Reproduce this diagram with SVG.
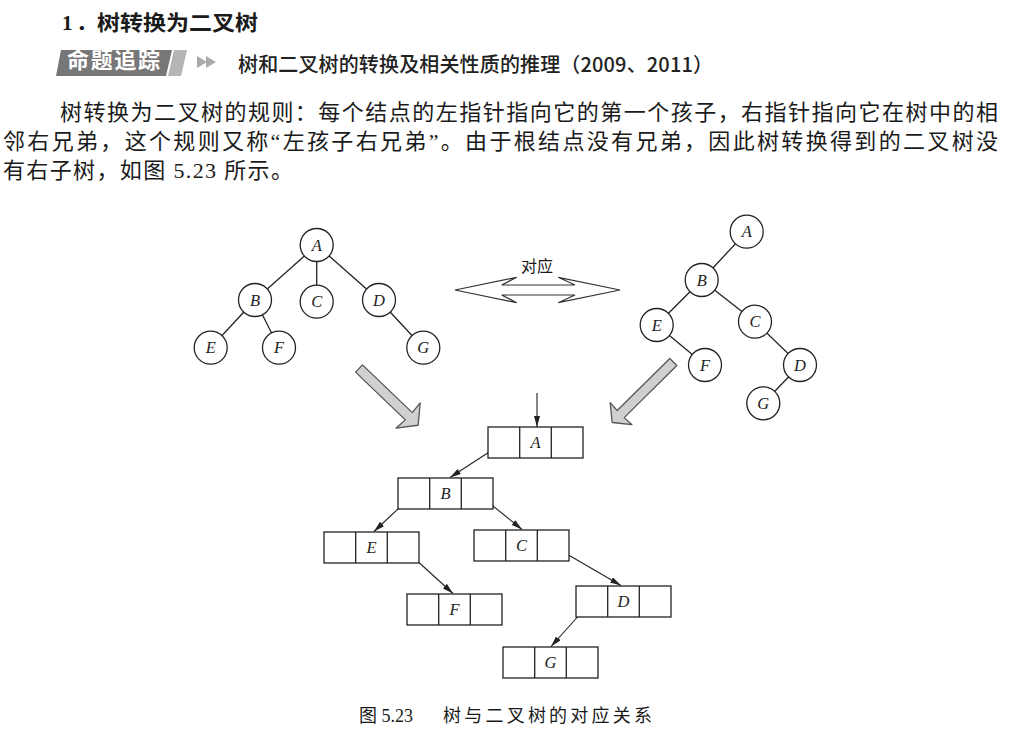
<svg xmlns="http://www.w3.org/2000/svg" width="1013" height="733" viewBox="0 0 1013 733">
<defs>
<style>
.cn{font-family:"Liberation Serif","Noto Sans CJK SC",serif;fill:#1a1a1a}
.p{font-size:22px}
.lbl{font-family:"Liberation Serif",serif;font-style:italic;font-size:16.5px;text-anchor:middle;fill:#222}
.nd circle{fill:#fff;stroke:#222;stroke-width:1.3}
.edge{stroke:#222;stroke-width:1.3;fill:none}
.box rect{fill:#fff;stroke:#222;stroke-width:1.3}
.box line{stroke:#222;stroke-width:1.3}
.ptr{stroke:#222;stroke-width:1.1;fill:none;marker-end:url(#ah)}
.big{fill:#d0d0d0;stroke:#555;stroke-width:1.3;stroke-linejoin:round}
.dbl{fill:#fff;stroke:#333;stroke-width:1.2;stroke-linejoin:miter}
</style>
<marker id="ah" viewBox="0 0 11 6" refX="11" refY="3" markerWidth="11" markerHeight="6" markerUnits="userSpaceOnUse" orient="auto"><path d="M0,0 L11,3 L0,6 z" fill="#222"/></marker>
</defs>
<rect width="1013" height="733" fill="#fff"/>

<g id="header">
<text class="cn" x="62" y="30" font-size="21" font-weight="bold">1</text>
<text class="cn" x="76" y="30" font-size="21" font-weight="bold">．</text>
<text class="cn" x="97" y="30" font-size="21" font-weight="bold" textLength="161" lengthAdjust="spacingAndGlyphs">树转换为二叉树</text>
</g>

<g id="badge">
<polygon points="56,76 61,50 172,50 166,76" fill="#777"/>
<polygon points="174,50 187,50 181,76 168,76" fill="#b5b5b5"/>
<text x="67" y="68" font-family="Noto Sans CJK SC, sans-serif" font-size="22" font-weight="bold" fill="#fff" textLength="93">命题追踪</text>
<polygon points="197,56 207,62 197,68" fill="#aaa"/>
<polygon points="206,56 216,62 206,68" fill="#aaa"/>
<text x="238" y="72" font-family="Noto Sans CJK SC, sans-serif" font-size="20" font-weight="500" fill="#222" textLength="475">树和二叉树的转换及相关性质的推理（2009、2011）</text>
</g>

<g id="paragraph">
<text class="cn p" x="60" y="120" textLength="938">树转换为二叉树的规则：每个结点的左指针指向它的第一个孩子，右指针指向它在树中的相</text>
<text class="cn p" x="3" y="149" textLength="995">邻右兄弟，这个规则又称“左孩子右兄弟”。由于根结点没有兄弟，因此树转换得到的二叉树没</text>
<text class="cn p" x="3" y="178" textLength="290">有右子树，如图 5.23 所示。</text>
</g>

<g id="connectors">
<line class="edge" x1="316.7" y1="245" x2="255" y2="300"/>
<line class="edge" x1="316.7" y1="245" x2="316.7" y2="301.7"/>
<line class="edge" x1="316.7" y1="245" x2="379" y2="300"/>
<line class="edge" x1="255" y1="300" x2="210.7" y2="347.7"/>
<line class="edge" x1="255" y1="300" x2="279" y2="347.7"/>
<line class="edge" x1="379" y1="300" x2="423.3" y2="347.7"/>
<line class="edge" x1="746.7" y1="231.7" x2="701.7" y2="280"/>
<line class="edge" x1="701.7" y1="280" x2="656.7" y2="325"/>
<line class="edge" x1="701.7" y1="280" x2="755" y2="321.7"/>
<line class="edge" x1="656.7" y1="325" x2="705" y2="365"/>
<line class="edge" x1="755" y1="321.7" x2="800" y2="365"/>
<line class="edge" x1="800" y1="365" x2="763.3" y2="403.3"/>
<line class="ptr" x1="537" y1="393" x2="537" y2="427"/>
<line class="ptr" x1="503" y1="443" x2="450" y2="477.5"/>
<line class="ptr" x1="415" y1="493" x2="374" y2="531.5"/>
<line class="ptr" x1="477" y1="493" x2="522" y2="529.5"/>
<line class="ptr" x1="403" y1="548" x2="453" y2="593.5"/>
<line class="ptr" x1="553" y1="546" x2="621" y2="585.5"/>
<line class="ptr" x1="591" y1="602" x2="551" y2="646.5"/>
</g>

<g id="tree-left">
<g id="t-A" class="nd"><circle cx="316.7" cy="245" r="16.5"/><text class="lbl" x="316.7" y="250.5">A</text></g>
<g id="t-B" class="nd"><circle cx="255" cy="300" r="16.5"/><text class="lbl" x="255" y="305.5">B</text></g>
<g id="t-C" class="nd"><circle cx="316.7" cy="301.7" r="16.5"/><text class="lbl" x="316.7" y="307.2">C</text></g>
<g id="t-D" class="nd"><circle cx="379" cy="300" r="16.5"/><text class="lbl" x="379" y="305.5">D</text></g>
<g id="t-E" class="nd"><circle cx="210.7" cy="347.7" r="16.5"/><text class="lbl" x="210.7" y="353.2">E</text></g>
<g id="t-F" class="nd"><circle cx="279" cy="347.7" r="16.5"/><text class="lbl" x="279" y="353.2">F</text></g>
<g id="t-G" class="nd"><circle cx="423.3" cy="347.7" r="16.5"/><text class="lbl" x="423.3" y="353.2">G</text></g>
</g>

<g id="tree-right">
<g id="r-A" class="nd"><circle cx="746.7" cy="231.7" r="16.5"/><text class="lbl" x="746.7" y="237.2">A</text></g>
<g id="r-B" class="nd"><circle cx="701.7" cy="280" r="16.5"/><text class="lbl" x="701.7" y="285.5">B</text></g>
<g id="r-E" class="nd"><circle cx="656.7" cy="325" r="16.5"/><text class="lbl" x="656.7" y="330.5">E</text></g>
<g id="r-C" class="nd"><circle cx="755" cy="321.7" r="16.5"/><text class="lbl" x="755" y="327.2">C</text></g>
<g id="r-F" class="nd"><circle cx="705" cy="365" r="16.5"/><text class="lbl" x="705" y="370.5">F</text></g>
<g id="r-D" class="nd"><circle cx="800" cy="365" r="16.5"/><text class="lbl" x="800" y="370.5">D</text></g>
<g id="r-G" class="nd"><circle cx="763.3" cy="403.3" r="16.5"/><text class="lbl" x="763.3" y="408.8">G</text></g>
</g>

<g id="correspond">
<polygon class="dbl" points="455,290 516.7,277.3 501.7,285 575,285 558.3,277.3 620,290 558.3,302.7 575,295 501.7,295 516.7,302.7"/>
<text class="cn" x="537" y="272" font-size="16" text-anchor="middle">对应</text>
</g>

<g id="big-arrows">
<polygon class="big" transform="translate(359,368.5) rotate(43.8)" points="0,-5 69,-5 68,-17.5 82,0 68,17.5 69,5 0,5"/>
<polygon class="big" transform="translate(673.3,362) rotate(135.3)" points="0,-5 74,-5 73.5,-15.5 86,0 73.5,15.5 74,5 0,5"/>
</g>

<g id="bin-A" class="box"><rect x="488" y="427" width="95" height="31"/><line x1="519.7" y1="427" x2="519.7" y2="458"/><line x1="551.3" y1="427" x2="551.3" y2="458"/><text class="lbl" x="535.5" y="448">A</text></g>
<g id="bin-B" class="box"><rect x="398" y="478" width="95" height="31"/><line x1="429.7" y1="478" x2="429.7" y2="509"/><line x1="461.3" y1="478" x2="461.3" y2="509"/><text class="lbl" x="445.5" y="499">B</text></g>
<g id="bin-E" class="box"><rect x="324" y="532" width="95" height="31"/><line x1="355.7" y1="532" x2="355.7" y2="563"/><line x1="387.3" y1="532" x2="387.3" y2="563"/><text class="lbl" x="371.5" y="553">E</text></g>
<g id="bin-C" class="box"><rect x="474" y="530" width="95" height="31"/><line x1="505.7" y1="530" x2="505.7" y2="561"/><line x1="537.3" y1="530" x2="537.3" y2="561"/><text class="lbl" x="521.5" y="551">C</text></g>
<g id="bin-F" class="box"><rect x="407" y="594" width="95" height="31"/><line x1="438.7" y1="594" x2="438.7" y2="625"/><line x1="470.3" y1="594" x2="470.3" y2="625"/><text class="lbl" x="454.5" y="615">F</text></g>
<g id="bin-D" class="box"><rect x="576" y="586" width="95" height="31"/><line x1="607.7" y1="586" x2="607.7" y2="617"/><line x1="639.3" y1="586" x2="639.3" y2="617"/><text class="lbl" x="623.5" y="607">D</text></g>
<g id="bin-G" class="box"><rect x="503" y="647" width="95" height="31"/><line x1="534.7" y1="647" x2="534.7" y2="678"/><line x1="566.3" y1="647" x2="566.3" y2="678"/><text class="lbl" x="550.5" y="668">G</text></g>

<g id="caption">
<text class="cn" x="359" y="722" font-size="18">图 5.23</text>
<text class="cn" x="443" y="722" font-size="18" textLength="209">树与二叉树的对应关系</text>
</g>
</svg>
